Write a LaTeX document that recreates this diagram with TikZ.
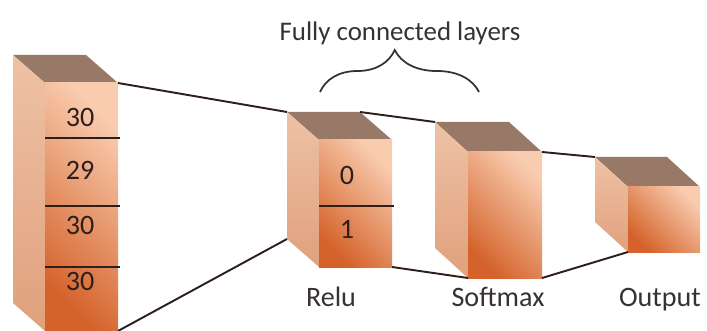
\documentclass[tikz,border=0pt]{standalone}
\usepackage{fontspec}
\setmainfont{Carlito}
\usetikzlibrary{decorations.pathreplacing}
\definecolor{topface}{RGB}{152,121,104}
\definecolor{sidelight}{RGB}{238,194,166}
\definecolor{sidedark}{RGB}{224,160,124}
\definecolor{frontlight}{RGB}{249,204,176}
\definecolor{frontdark}{RGB}{212,98,42}
\definecolor{inkline}{RGB}{45,32,28}
\definecolor{inktext}{RGB}{55,50,48}
\tikzset{
  topside/.style={fill=topface},
  leftside/.style={top color=sidelight, bottom color=sidedark},
  frontside/.style={top color=frontlight, bottom color=frontdark, shading angle=-45},
  wire/.style={draw=inkline, line width=1.1pt},
  numtext/.style={text=inkline, font=\fontsize{16}{19}\selectfont, anchor=base, inner sep=0pt},
  layername/.style={text=inktext, font=\fontsize{16}{19}\selectfont, anchor=base, inner sep=0pt},
}
% cuboid: name, front x, front y, width, height, depth x, depth y
\newcommand{\cuboid}[7]{%
  \coordinate (#1-a) at (#2,#3);
  \coordinate (#1-b) at ({#2+#4},#3);
  \coordinate (#1-c) at ({#2+#4},{#3+#5});
  \coordinate (#1-d) at (#2,{#3+#5});
  \coordinate (#1-e) at ({#2-#6},{#3-#7});
  \coordinate (#1-f) at ({#2+#4-#6},{#3-#7});
  \coordinate (#1-g) at ({#2-#6},{#3+#5-#7});
  \fill[topside] (#1-e) -- (#1-f) -- (#1-b) -- (#1-a) -- cycle;
  \shade[leftside] (#1-e) -- (#1-a) -- (#1-d) -- (#1-g) -- cycle;
  \shade[frontside] (#1-a) -- (#1-b) -- (#1-c) -- (#1-d) -- cycle;
}

\begin{document}
\begin{tikzpicture}[x=0.02cm, y=-0.02cm]
  \useasboundingbox (0,0) rectangle (707,331);

  % the four layers
  \cuboid{pool}{45}{83}{73}{248}{32}{28}
  \cuboid{relu}{319}{140}{73}{127}{32}{28}
  \cuboid{soft}{468}{152}{74}{126}{33}{30}
  \cuboid{out}{628}{187}{72}{65}{33}{30}

  % cells of the first layer
  \draw[wire] (45,138) -- (120,138);
  \draw[wire] (45,206) -- (120,206);
  \draw[wire] (45,267) -- (120,267);
  \node[numtext] (p1) at (80,127) {30};
  \node[numtext] (p2) at (80,179) {29};
  \node[numtext] (p3) at (80,235) {30};
  \node[numtext] (p4) at (80,290) {30};

  % cells of the relu layer
  \draw[wire] (319,206) -- (394,206);
  \node[numtext] (r1) at (347,185) {0};
  \node[numtext] (r2) at (347,238) {1};

  % connectors
  \draw[wire] (pool-b) -- (relu-e);
  \draw[wire] (pool-c) -- (relu-g);
  \draw[wire] (relu-f) -- (soft-e);
  \draw[wire] (relu-c) -- (soft-d);
  \draw[wire] (soft-b) -- (out-e);
  \draw[wire] (soft-c) -- (out-d);

  % labels
  \node[layername] (relu-name) at (331,306) {Relu};
  \node[layername] (soft-name) at (498,306) {Softmax};
  \node[layername] (out-name) at (660,306) {Output};

  % brace over the fully connected layers
  \coordinate (brace-l) at (320,92);
  \coordinate (brace-r) at (479,92);
  \draw[draw=inktext, line width=1pt, decorate,
        decoration={brace, amplitude=0.84cm, aspect=0.47}] (brace-l) -- (brace-r);
  \node[layername, font=\fontsize{15.3}{18}\selectfont] (fc-name) at (400,41) {Fully connected layers};
\end{tikzpicture}
\end{document}
